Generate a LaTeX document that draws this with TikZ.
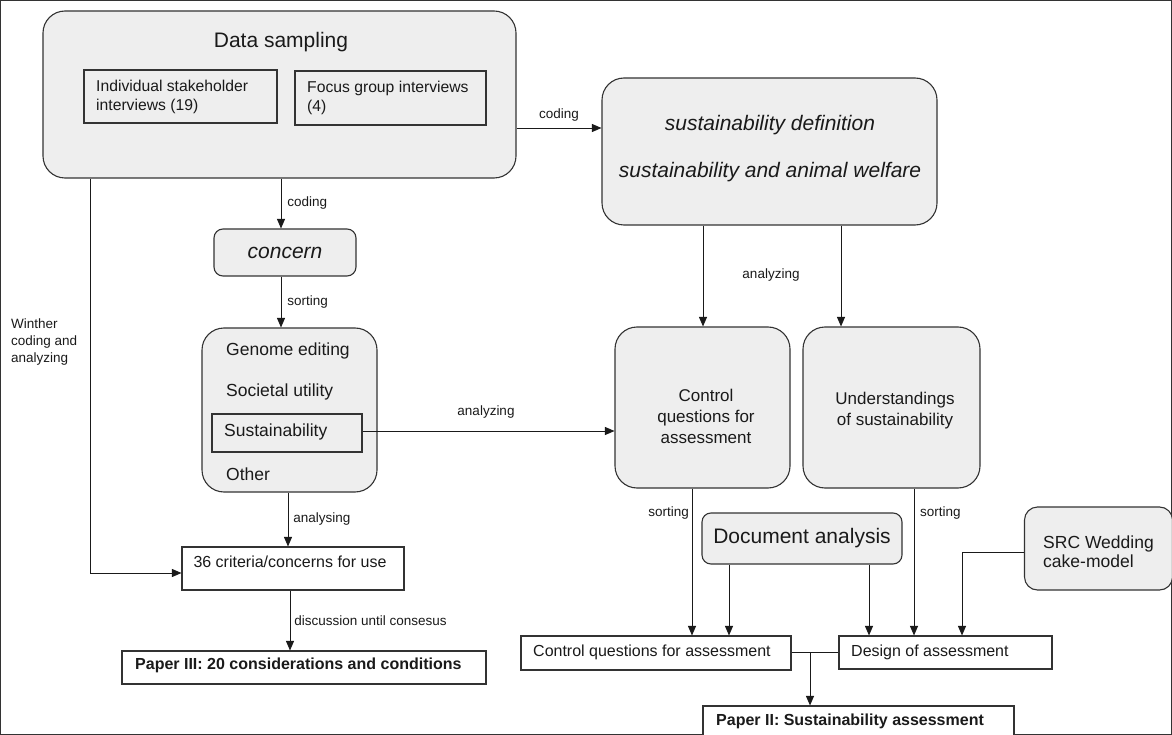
\documentclass[tikz,border=0pt]{standalone}
\usepackage{fontspec}
\setmainfont{Liberation Sans}
\usetikzlibrary{arrows.meta,positioning}
\definecolor{boxfill}{HTML}{EEEEEE}
\definecolor{boxline}{HTML}{333333}
\definecolor{txt}{HTML}{1A1A1A}
\tikzset{
  grey/.style={draw=boxline, line width=1.1pt, fill=boxfill, rounded corners=#1, inner sep=0pt},
  white/.style={draw=boxline, line width=1.1pt, fill=white, inner sep=0pt},
  txtnode/.style={text=txt, inner sep=0pt, align=left},
  lbl/.style={text=txt, inner sep=0pt, font=\fontsize{13.5}{17}\selectfont, align=left},
  conn/.style={draw=txt, line width=0.9pt},
  arr/.style={conn, -{Triangle[length=9.5pt,width=8pt]}},
}
\begin{document}
\begin{tikzpicture}[x=1pt,y=-1pt]
\clip (0,0) rectangle (1172,735);
\fill[white] (0,0) rectangle (1172,735);

% Data sampling
\node[grey=22pt, minimum width=473pt, minimum height=167pt] (ds) at (279.5,94.5) {};
\node[txtnode, font=\fontsize{21}{25}\selectfont, anchor=center] (dst) at (281,42) {Data sampling};
\node[white, fill=boxfill, minimum width=193pt, minimum height=53pt] (ind) at (180.5,96.5) {};
\node[txtnode, anchor=west, font=\fontsize{15.7}{19}\selectfont] (indt) at (96,97) {Individual stakeholder\\interviews (19)};
\node[white, fill=boxfill, minimum width=191pt, minimum height=54pt] (foc) at (390.5,98) {};
\node[txtnode, anchor=west, font=\fontsize{15.7}{19}\selectfont] (foct) at (307,97.5) {Focus group interviews\\(4)};

% sustainability definition box
\node[grey=22pt, minimum width=335pt, minimum height=147pt] (def) at (769.5,151.5) {};
\node[txtnode, align=center, font=\fontsize{21}{47}\selectfont\itshape] (deft) at (770,148.5) {sustainability definition\\sustainability and animal welfare};

% concern
\node[grey=9pt, minimum width=142pt, minimum height=47pt, font=\fontsize{21}{25}\selectfont\itshape, text=txt] (concern) at (285,252.5) {concern};

% categories
\node[grey=22pt, minimum width=175pt, minimum height=164pt] (cat) at (289.5,410) {};
\node[txtnode, anchor=west, font=\fontsize{17.5}{21}\selectfont] (c1) at (226,351) {Genome editing};
\node[txtnode, anchor=west, font=\fontsize{17.5}{21}\selectfont] (c2) at (226,392) {Societal utility};
\node[white, fill=boxfill, minimum width=150pt, minimum height=38pt] (sust) at (287,433) {};
\node[txtnode, anchor=west, font=\fontsize{17.5}{21}\selectfont] (c3) at (224,432) {Sustainability};
\node[txtnode, anchor=west, font=\fontsize{17.5}{21}\selectfont] (c4) at (226,474) {Other};

% 36 criteria
\node[white, fill=white, minimum width=222pt, minimum height=43pt] (crit) at (293,568.5) {};
\node[txtnode, font=\fontsize{16}{19}\selectfont] (critt) at (290,562) {36 criteria/concerns for use};

% Paper III
\node[white, minimum width=364pt, minimum height=33pt] (p3) at (304,667.5) {};
\node[txtnode, anchor=west, font=\fontsize{16}{19}\selectfont\bfseries] (p3t) at (135,665.5) {Paper III: 20 considerations and conditions};

% Control questions / Understandings
\node[grey=22pt, minimum width=175pt, minimum height=161pt] (cq) at (702.5,407.5) {};
\node[txtnode, align=center, font=\fontsize{17}{21}\selectfont] (cqt) at (706,416) {Control\\questions for\\assessment};
\node[grey=22pt, minimum width=177pt, minimum height=161pt] (us) at (891.5,407.5) {};
\node[txtnode, align=center, font=\fontsize{17}{21}\selectfont] (ust) at (895,410.5) {Understandings\\of sustainability};

% Document analysis
\node[grey=9pt, minimum width=200pt, minimum height=51pt, text=txt, font=\fontsize{21}{25}\selectfont] (da) at (802,538.5) {Document analysis};

% SRC
\node[grey=13pt, minimum width=148pt, minimum height=83pt] (src) at (1098.5,548.5) {};
\node[txtnode, anchor=west, font=\fontsize{17.5}{19.5}\selectfont] (srct) at (1043,551.5) {SRC Wedding\\cake-model};

% bottom boxes
\node[white, minimum width=270pt, minimum height=34pt] (cq2) at (656,653) {};
\node[txtnode, anchor=west, font=\fontsize{16}{19}\selectfont] (cq2t) at (533,652) {Control questions for assessment};
\node[white, minimum width=213pt, minimum height=33pt] (des) at (945.5,652.5) {};
\node[txtnode, anchor=west, font=\fontsize{16}{19}\selectfont] (dest) at (851,652) {Design of assessment};
\node[white, minimum width=311pt, minimum height=36pt] (p2) at (858.5,724) {};
\node[txtnode, anchor=west, font=\fontsize{16}{19}\selectfont\bfseries] (p2t) at (716,721) {Paper II: Sustainability assessment};

% coordinates
\coordinate (j) at (810,652);
\coordinate (srcturn) at (962,552);
\coordinate (wturn) at (90,573);

% connectors
\draw[arr] (ds.east |- 0,128) -- (def.west |- 0,128) node[lbl, midway, above=6pt] (l1) {coding};
\draw[arr] (ds.south -| 281,0) -- (concern.north -| 281,0) node[lbl, midway, right=6pt] (l2) {coding};
\draw[arr] (concern.south -| 281,0) -- (cat.north -| 281,0) node[lbl, midway, right=6pt] (l3) {sorting};
\draw[arr] (sust.east |- 0,431) -- (cq.west |- 0,431);
\node[lbl] (l4) at (486,412) {analyzing};
\draw[arr] (def.south -| 703,0) -- (cq.north -| 703,0);
\draw[arr] (def.south -| 841,0) -- (us.north -| 841,0);
\node[lbl] (l5) at (771,275) {analyzing};
\draw[arr] (cat.south -| 288,0) -- (crit.north -| 288,0) node[lbl, midway, right=5pt] (l6) {analysing};
\draw[arr] (ds.south -| 90,0) -- (wturn) -- (crit.west |- wturn);
\node[lbl, anchor=west] (l7) at (11,342) {Winther\\coding and\\analyzing};
\draw[arr] (crit.south -| 290,0) -- (p3.north -| 290,0) node[lbl, midway, right=4pt] (l8) {discussion until consesus};
\draw[arr] (cq.south -| 692,0) -- (cq2.north -| 692,0);
\node[lbl, anchor=east] (l9) at (689,513) {sorting};
\draw[arr] (da.south -| 729,0) -- (cq2.north -| 729,0);
\draw[arr] (da.south -| 869,0) -- (des.north -| 869,0);
\draw[arr] (us.south -| 914,0) -- (des.north -| 914,0);
\node[lbl, anchor=west] (l10) at (920,513) {sorting};
\draw[arr] (src.west |- srcturn) -- (srcturn) -- (des.north -| srcturn);
\draw[conn] (cq2.east |- j) -- (des.west |- j);
\draw[arr] (j) -- (p2.north -| j);
\end{tikzpicture}
\end{document}
